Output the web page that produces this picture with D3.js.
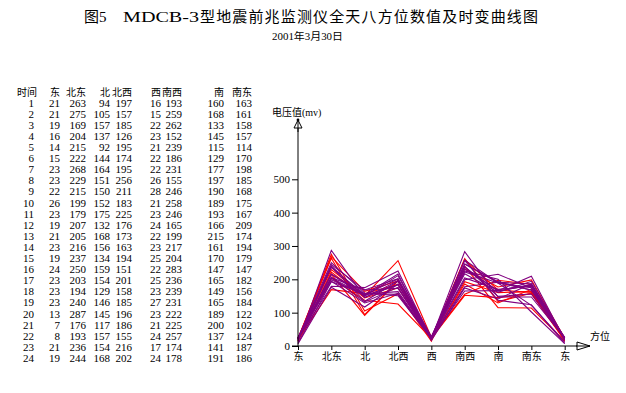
<!DOCTYPE html>
<html><head><meta charset="utf-8">
<script src="https://cdn.jsdelivr.net/npm/d3@7"></script>
<style>
html,body{margin:0;padding:0;background:#fff;}
svg{display:block;}
text{font-family:"Liberation Serif","Noto Sans CJK SC",serif;fill:#000;}
</style></head>
<body><svg id="c" width="626" height="393"></svg>
<script>
const titleText = "图5  MDCB-3型地震前兆监测仪全天八方位数值及时变曲线图";
const subtitleText = "2001年3月30日";
const yAxisLabel = "电压值(mv)";
const xAxisLabel = "方位";
const tableHeaders = ["时间","东","北东","北","北西","西","南西","南","南东"];
const directions = ["东","北东","北","北西","西","南西","南","南东","东"];
const hours = [1,2,3,4,5,6,7,8,9,10,11,12,13,14,15,16,17,18,19,20,21,22,23,24];
const readings = [
 [21,263,94,197,16,193,160,163],
 [21,275,105,157,15,259,168,161],
 [19,169,157,185,22,262,133,158],
 [16,204,137,126,23,152,145,157],
 [14,215,92,195,21,239,115,114],
 [15,222,144,174,22,186,129,170],
 [23,268,164,195,22,231,177,198],
 [23,229,151,256,26,155,197,185],
 [22,215,150,211,28,246,190,168],
 [26,199,152,183,21,258,189,175],
 [23,179,175,225,23,246,193,167],
 [19,207,132,176,24,165,166,209],
 [21,205,168,173,22,199,215,174],
 [23,216,156,163,23,217,161,194],
 [19,237,134,194,25,204,170,179],
 [24,250,159,151,22,283,147,147],
 [23,203,154,201,25,236,165,182],
 [23,194,129,158,23,239,149,156],
 [23,240,146,185,27,231,165,184],
 [13,287,145,196,23,222,189,122],
 [7,176,117,186,21,225,200,102],
 [8,193,157,155,24,257,137,124],
 [21,236,154,216,17,174,141,187],
 [19,244,168,202,24,178,191,186]
];
const yTicks = [0,100,200,300,400,500];
const redHours = 8; // first hours drawn in red, the rest purple

const svg = d3.select("#c");

// Title
const t = svg.append("text").attr("y", 22).style("font-size","15px");
t.append("tspan").attr("x",84).text("图");
t.append("tspan").attr("x",99).text("5");
t.append("tspan").attr("x",123).attr("textLength",76).attr("lengthAdjust","spacingAndGlyphs").text("MDCB-3");
t.append("tspan").attr("x",200).attr("textLength",338).attr("lengthAdjust","spacing").text("型地震前兆监测仪全天八方位数值及时变曲线图");

svg.append("text").attr("x",272).attr("y",40).attr("textLength",71).attr("lengthAdjust","spacingAndGlyphs")
  .style("font-size","10px").text(subtitleText);

// Table
const colRight = [37,60,86,110,132,161,182,224,252];
const rowY = d3.scaleLinear().domain([0,1]).range([95.5,106.6]);
const tbl = svg.append("g").style("font-size","11px");
tableHeaders.forEach((h,i)=>{
  tbl.append("text").attr("x",colRight[i]).attr("y",rowY(0)).attr("text-anchor","end")
    .style("font-size","10px").text(h);
});
hours.forEach((hr,r)=>{
  const vals = [hr].concat(readings[r]);
  vals.forEach((v,i)=>{
    tbl.append("text").attr("x", i===0?34:colRight[i]).attr("y",rowY(r+1)).attr("text-anchor","end").text(v);
  });
});

// Chart
const x = d3.scaleLinear().domain([0,8]).range([298,564.7]);
const y = d3.scaleLinear().domain([0,500]).range([346,179.3]);

const g = svg.append("g");
const line = d3.line().x((d,i)=>x(i)).y(d=>y(d));
const series = readings.map((r,i)=>({hour:hours[i], pts:r.concat([r[0]])}));
g.selectAll("path.s").data(series).join("path").attr("class","s")
  .attr("fill","none")
  .attr("stroke",d=>d.hour<=redHours?"#ff0000":"#800080")
  .attr("stroke-width",1.1)
  .attr("d",d=>line(d.pts));

// Y axis
const yAx = svg.append("g").attr("transform","translate(298,0)")
  .call(d3.axisLeft(y).tickValues(yTicks).tickSize(6).tickPadding(2).tickSizeOuter(0));
yAx.select(".domain").remove();
yAx.selectAll("text").style("font-size","11px").style("font-family","'Liberation Serif',serif");
yAx.selectAll("line").attr("stroke","#000");
svg.append("line").attr("x1",298).attr("x2",298).attr("y1",346).attr("y2",120).attr("stroke","#000");
svg.append("path").attr("d","M298,120 L294,128 L302,128 Z").attr("fill","#fff").attr("stroke","#000");
svg.append("line").attr("x1",298).attr("x2",298).attr("y1",120).attr("y2",132).attr("stroke","#000");
svg.append("circle").attr("cx",298).attr("cy",120).attr("r",1.4).attr("fill","#000");
svg.append("text").attr("x",272).attr("y",116).style("font-size","10px").text(yAxisLabel);

// X axis
const xAx = svg.append("g").attr("transform","translate(0,346)")
  .call(d3.axisBottom(x).tickValues(d3.range(9)).tickFormat(i=>directions[i]).tickSize(4).tickPadding(3).tickSizeOuter(0));
xAx.select(".domain").remove();
xAx.selectAll("text").style("font-size","10px");
xAx.selectAll("line").attr("stroke","#000");
svg.append("line").attr("x1",292).attr("x2",590).attr("y1",346).attr("y2",346).attr("stroke","#000");
svg.append("path").attr("d","M590,346 L577,342 L577,350 Z").attr("fill","#fff").attr("stroke","#000");
svg.append("line").attr("x1",576).attr("x2",590).attr("y1",346).attr("y2",346).attr("stroke","#000");
svg.append("text").attr("x",590).attr("y",340).style("font-size","10px").text(xAxisLabel);
</script></body></html>
